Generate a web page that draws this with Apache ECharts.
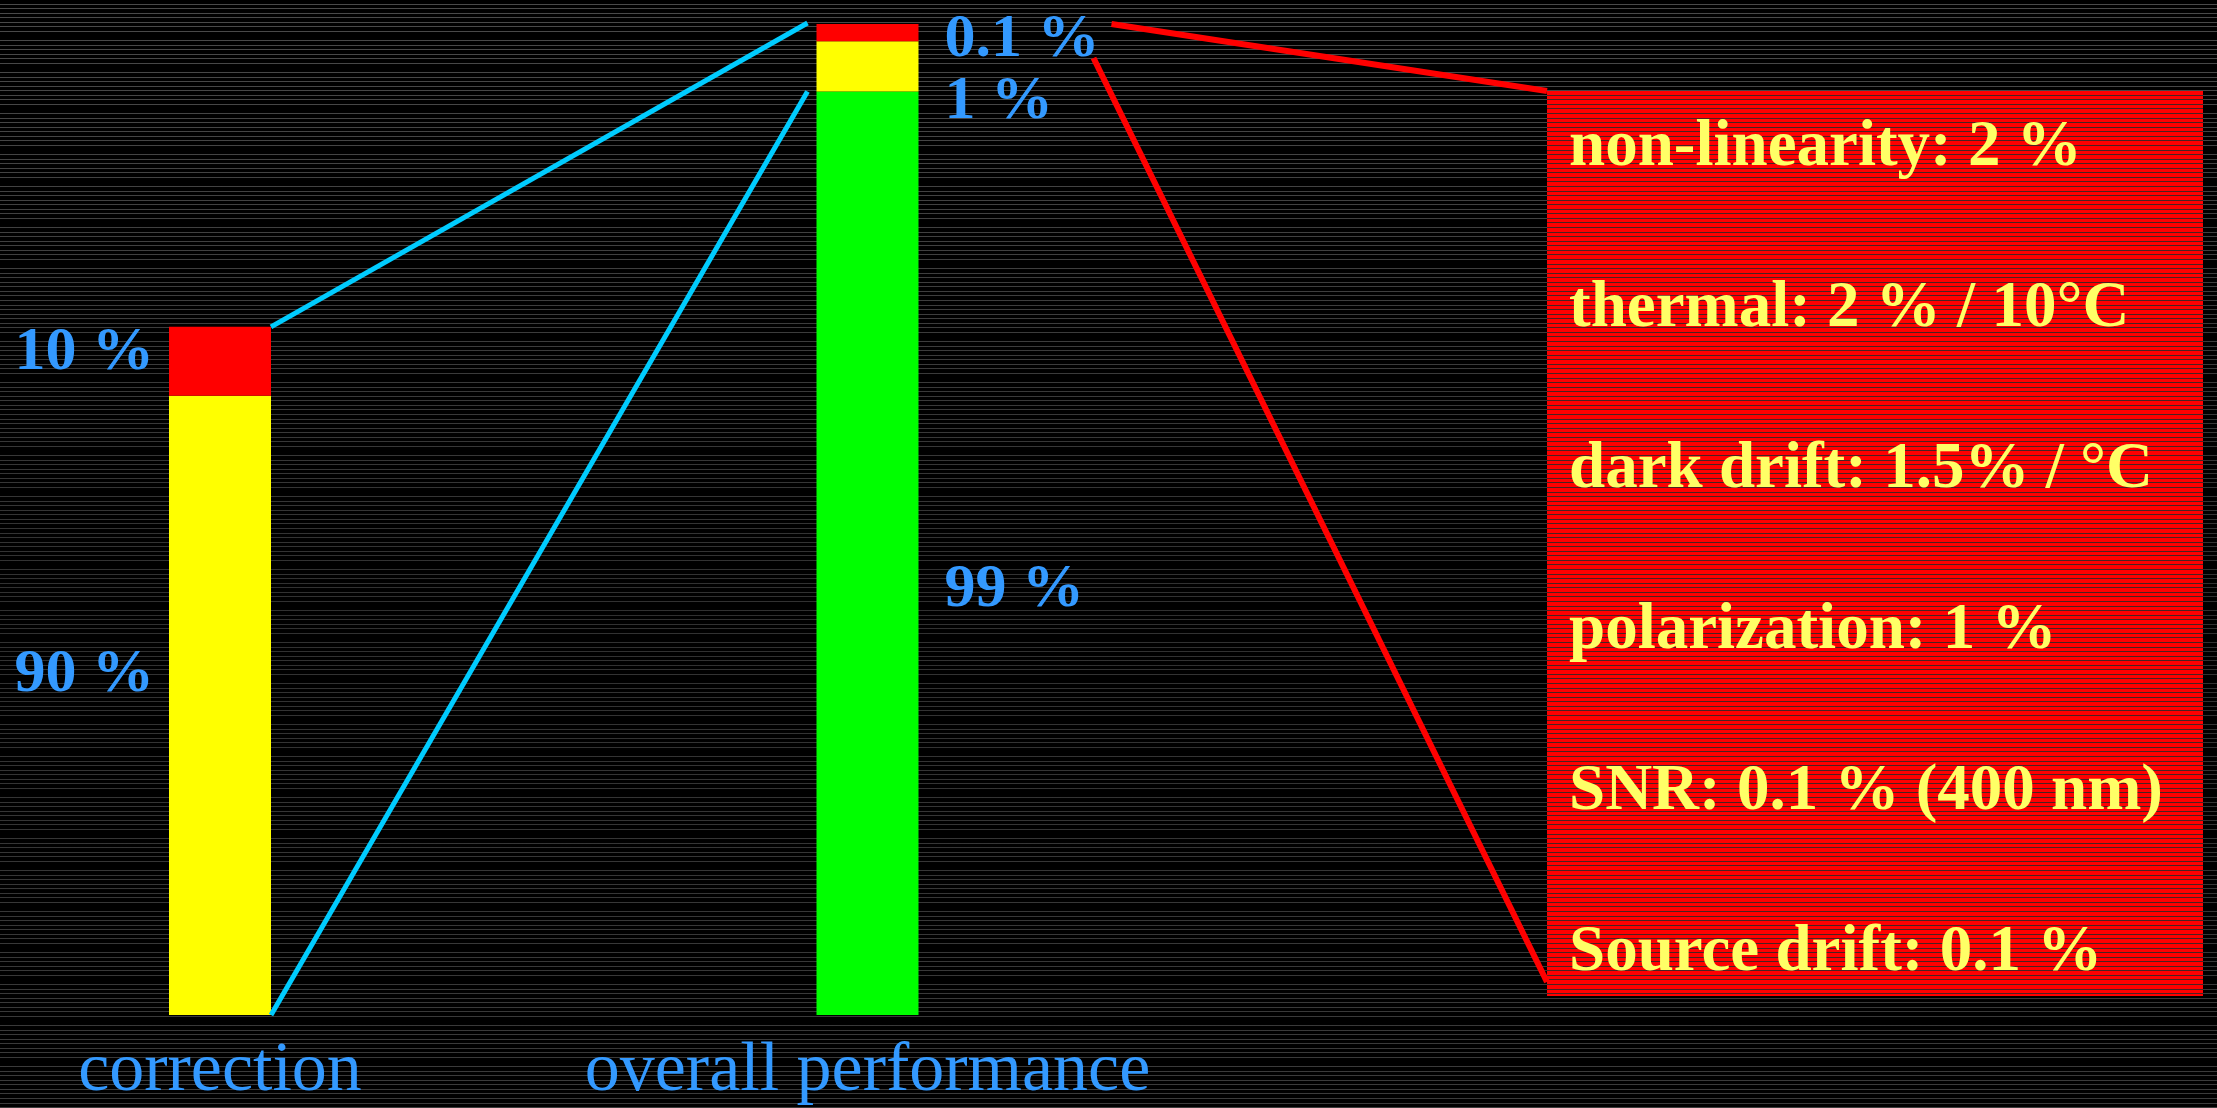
<!DOCTYPE html>
<html>
<head>
<meta charset="utf-8">
<title>correction / overall performance</title>
<script src="https://cdn.jsdelivr.net/npm/echarts@6/dist/echarts.min.js"></script>
<style>
html, body { margin: 0; padding: 0; background: #000; }
#main {
  width: 2217px; height: 1108px; background-color: #000;
  background-image:
    linear-gradient(to bottom, rgba(0,0,0,0) 0%, rgba(0,0,0,0.35) 55%, rgba(0,0,0,0.2) 100%),
    repeating-linear-gradient(to bottom, rgba(0,0,0,0) 0px, rgba(0,0,0,0) 3.66px, #4a4a4a 3.66px, #4a4a4a 4.56px);
}
</style>
</head>
<body>
<div id="main"></div>
<script type="text/javascript">
var categories = ['correction', 'overall performance'];
// bar heights as drawn in the picture (small parts of the overall bar are exaggerated there)
var redHeights = [10, 2.5];
var yellowHeights = [90, 7.3];
var greenHeights = [0, 134.2];
var redLabels = ['10 %', '0.1 %'];
var yellowLabels = ['90 %', '1 %'];
var greenLabels = ['', '99 %'];
var breakdown = [
  'non-linearity: 2 %',
  'thermal: 2 % / 10°C',
  'dark drift: 1.5% / °C',
  'polarization: 1 %',
  'SNR: 0.1 % (400 nm)',
  'Source drift: 0.1 %'
];

var blue = '#3399ff';
var serif = '"Liberation Serif", "Times New Roman", serif';
var BAR_W = 102;

var chart = echarts.init(document.getElementById('main'));

function segment(name, color, values, labels, dy) {
  return {
    name: name,
    type: 'bar',
    stack: 'all',
    barWidth: BAR_W,
    clip: false,
    itemStyle: { color: color },
    data: values.map(function (v, i) {
      return {
        value: v,
        label: {
          show: labels[i] !== '',
          formatter: labels[i],
          position: i === 0 ? 'left' : 'right',
          distance: i === 0 ? 15 : 26,
          offset: [0, dy[i]],
          color: blue,
          fontFamily: serif,
          fontWeight: 'bold',
          fontSize: 62
        }
      };
    })
  };
}

var option = {
  backgroundColor: 'transparent',
  animation: false,
  grid: { left: 220, right: 1349.5, top: 24, bottom: 93, outerBoundsMode: 'none' },
  xAxis: {
    type: 'category',
    data: categories,
    boundaryGap: false,
    axisLine: { show: false },
    axisTick: { show: false },
    splitLine: { show: false },
    axisLabel: {
      color: blue, fontFamily: serif, fontSize: 70, margin: 22,
      interval: 0, showMinLabel: true, showMaxLabel: true, hideOverlap: false
    }
  },
  yAxis: { type: 'value', min: 0, max: 144, show: false },
  series: [
    segment('green', '#00ff00', greenHeights, greenLabels, [0, 37]),
    segment('yellow', '#ffff00', yellowHeights, yellowLabels, [-30, 36]),
    segment('red', '#ff0000', redHeights, redLabels, [-8, 7])
  ]
};
chart.setOption(option);

// connector lines, anchored on the bars
function px(cat, val) { return chart.convertToPixel({ gridIndex: 0 }, [cat, val]); }
var corrTop = px(0, redHeights[0] + yellowHeights[0]);
var corrBase = px(0, 0);
var overTop = px(1, redHeights[1] + yellowHeights[1] + greenHeights[1]);
var overGreenTop = px(1, greenHeights[1]);
var corrRight = corrTop[0] + BAR_W / 2;
var overLeft = overTop[0] - BAR_W / 2 - 9;
var overRight = overTop[0] + BAR_W / 2;

var box = { x: 1547, y: 91, w: 656, h: 905 };

// red striped fill for the breakdown box
var pat = document.createElement('canvas');
pat.width = 8; pat.height = 1108;
var g = pat.getContext('2d');
g.fillStyle = '#ff0000'; g.fillRect(0, 0, 8, 1108);
g.fillStyle = '#4a2222';
for (var yy = 3.6; yy < 1108; yy += 4.56) g.fillRect(0, Math.round(yy), 8, 1);

var graphics = [
  { type: 'rect', z: 1, shape: { x: box.x, y: box.y, width: box.w, height: box.h },
    style: { fill: { image: pat, repeat: 'repeat' } } },
  { type: 'line', z: 5, shape: { x1: corrRight, y1: corrTop[1], x2: overLeft, y2: overTop[1] - 1 },
    style: { stroke: '#00ccff', lineWidth: 5 } },
  { type: 'line', z: 5, shape: { x1: corrRight, y1: corrBase[1], x2: overLeft, y2: overGreenTop[1] },
    style: { stroke: '#00ccff', lineWidth: 5 } },
  { type: 'line', z: 5, shape: { x1: overRight + 193, y1: overTop[1], x2: box.x, y2: box.y },
    style: { stroke: '#ff0000', lineWidth: 6 } },
  { type: 'line', z: 5, shape: { x1: overRight + 175, y1: overTop[1] + 34, x2: box.x, y2: box.y + box.h - 14 },
    style: { stroke: '#ff0000', lineWidth: 6 } }
];
breakdown.forEach(function (t, i) {
  graphics.push({
    type: 'text', z: 6, x: 1569, y: 148 + i * 161,
    style: { text: t, fill: '#ffff66', font: 'bold 65px ' + serif, verticalAlign: 'middle' }
  });
});
chart.setOption({ graphic: graphics });
</script>
</body>
</html>
